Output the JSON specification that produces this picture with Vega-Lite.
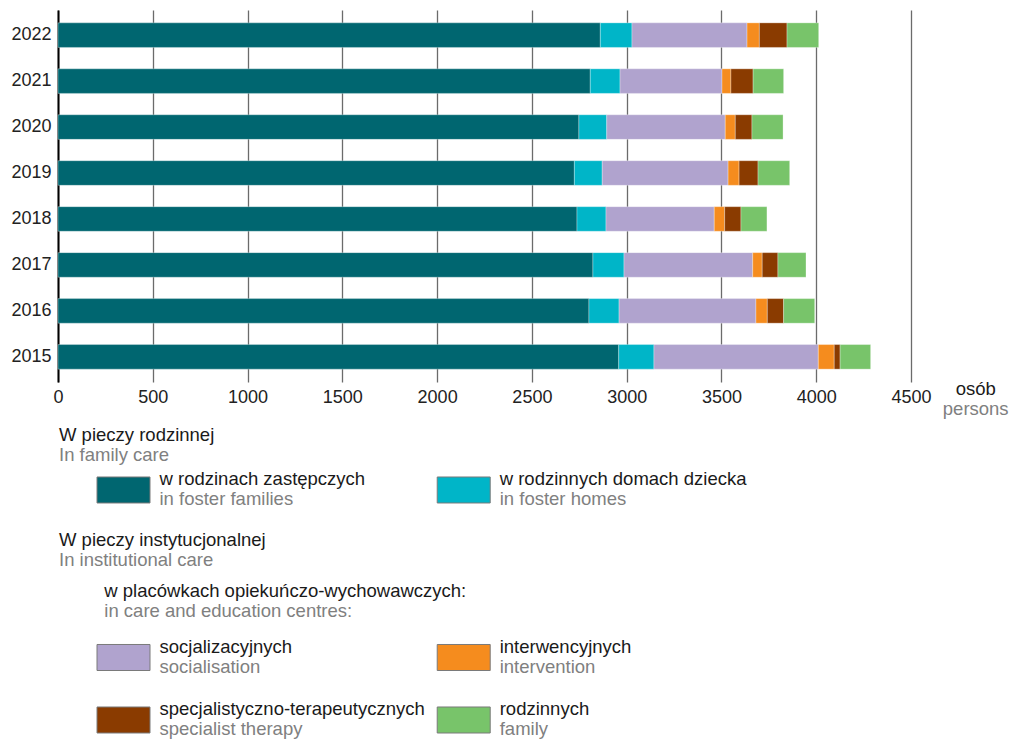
{
  "$schema": "https://vega.github.io/schema/vega-lite/v6.json",
  "padding": {"left": 10, "top": 10, "right": 5, "bottom": 2},
  "background": "white",
  "bounds": "flush",
  "spacing": 0,
  "config": {"view": {"stroke": null}, "font": "Liberation Sans"},
  "datasets": {
    "bars": [
      {"year": "2022", "cat": "1 foster families", "n": 2861},
      {"year": "2022", "cat": "2 foster homes", "n": 167},
      {"year": "2022", "cat": "3 socialisation", "n": 607},
      {"year": "2022", "cat": "4 intervention", "n": 65},
      {"year": "2022", "cat": "5 specialist therapy", "n": 146},
      {"year": "2022", "cat": "6 family", "n": 167},
      {"year": "2021", "cat": "1 foster families", "n": 2808},
      {"year": "2021", "cat": "2 foster homes", "n": 157},
      {"year": "2021", "cat": "3 socialisation", "n": 538},
      {"year": "2021", "cat": "4 intervention", "n": 47},
      {"year": "2021", "cat": "5 specialist therapy", "n": 117},
      {"year": "2021", "cat": "6 family", "n": 161},
      {"year": "2020", "cat": "1 foster families", "n": 2748},
      {"year": "2020", "cat": "2 foster homes", "n": 147},
      {"year": "2020", "cat": "3 socialisation", "n": 625},
      {"year": "2020", "cat": "4 intervention", "n": 53},
      {"year": "2020", "cat": "5 specialist therapy", "n": 88},
      {"year": "2020", "cat": "6 family", "n": 164},
      {"year": "2019", "cat": "1 foster families", "n": 2724},
      {"year": "2019", "cat": "2 foster homes", "n": 147},
      {"year": "2019", "cat": "3 socialisation", "n": 664},
      {"year": "2019", "cat": "4 intervention", "n": 58},
      {"year": "2019", "cat": "5 specialist therapy", "n": 100},
      {"year": "2019", "cat": "6 family", "n": 167},
      {"year": "2018", "cat": "1 foster families", "n": 2738},
      {"year": "2018", "cat": "2 foster homes", "n": 153},
      {"year": "2018", "cat": "3 socialisation", "n": 571},
      {"year": "2018", "cat": "4 intervention", "n": 55},
      {"year": "2018", "cat": "5 specialist therapy", "n": 86},
      {"year": "2018", "cat": "6 family", "n": 137},
      {"year": "2017", "cat": "1 foster families", "n": 2822},
      {"year": "2017", "cat": "2 foster homes", "n": 164},
      {"year": "2017", "cat": "3 socialisation", "n": 679},
      {"year": "2017", "cat": "4 intervention", "n": 50},
      {"year": "2017", "cat": "5 specialist therapy", "n": 83},
      {"year": "2017", "cat": "6 family", "n": 148},
      {"year": "2016", "cat": "1 foster families", "n": 2801},
      {"year": "2016", "cat": "2 foster homes", "n": 159},
      {"year": "2016", "cat": "3 socialisation", "n": 722},
      {"year": "2016", "cat": "4 intervention", "n": 60},
      {"year": "2016", "cat": "5 specialist therapy", "n": 86},
      {"year": "2016", "cat": "6 family", "n": 164},
      {"year": "2015", "cat": "1 foster families", "n": 2958},
      {"year": "2015", "cat": "2 foster homes", "n": 186},
      {"year": "2015", "cat": "3 socialisation", "n": 867},
      {"year": "2015", "cat": "4 intervention", "n": 84},
      {"year": "2015", "cat": "5 specialist therapy", "n": 31},
      {"year": "2015", "cat": "6 family", "n": 161}
    ],
    "legend": [
      {"cat": "1 foster families", "pl": "w rodzinach zastępczych", "en": "in foster families", "col": 1, "blk": "i1"},
      {"cat": "2 foster homes", "pl": "w rodzinnych domach dziecka", "en": "in foster homes", "col": 2, "blk": "i1"},
      {"cat": "3 socialisation", "pl": "socjalizacyjnych", "en": "socialisation", "col": 1, "blk": "i2"},
      {"cat": "4 intervention", "pl": "interwencyjnych", "en": "intervention", "col": 2, "blk": "i2"},
      {"cat": "5 specialist therapy", "pl": "specjalistyczno-terapeutycznych", "en": "specialist therapy", "col": 1, "blk": "i3"},
      {"cat": "6 family", "pl": "rodzinnych", "en": "family", "col": 2, "blk": "i3"}
    ],
    "heads": [
      {"pl": "W pieczy rodzinnej", "en": "In family care", "blk": "h1"},
      {"pl": "W pieczy instytucjonalnej", "en": "In institutional care", "blk": "h2"},
      {"pl": "w placówkach opiekuńczo-wychowawczych:", "en": "in care and education centres:", "blk": "s2"},
      {"pl": "osób", "en": "persons", "blk": "u"}
    ]
  },
  "resolve": {"scale": {"x": "independent", "y": "independent", "color": "shared"}},
  "vconcat": [
    {
      "width": 853,
      "height": 372,
      "data": {"name": "bars"},
      "mark": {"type": "bar", "stroke": "white", "strokeWidth": 0.6, "strokeOpacity": 0.5},
      "encoding": {
        "y": {
          "field": "year", "type": "ordinal", "sort": "descending",
          "scale": {"paddingInner": 0.465, "paddingOuter": 0.28},
          "axis": {"title": null, "ticks": false, "domain": true, "domainColor": "#000000", "domainWidth": 2, "labelFontSize": 18, "labelColor": "#222222", "labelPadding": 7}
        },
        "x": {
          "field": "n", "type": "quantitative", "stack": "zero",
          "scale": {"domain": [0, 4500], "nice": false},
          "axis": {"title": null, "values": [0, 500, 1000, 1500, 2000, 2500, 3000, 3500, 4000, 4500], "format": "d", "grid": true, "gridColor": "#6b6b6b", "gridWidth": 1.3, "domain": false, "ticks": false, "labelFontSize": 18, "labelColor": "#222222", "labelPadding": 6, "labelFlush": false}
        },
        "color": {
          "field": "cat", "type": "nominal",
          "scale": {
            "domain": ["1 foster families", "2 foster homes", "3 socialisation", "4 intervention", "5 specialist therapy", "6 family"],
            "range": ["#006670", "#00B5C8", "#B0A3CE", "#F58C1E", "#8A3B00", "#78C46A"]
          },
          "legend": null
        },
        "order": {"field": "cat", "sort": "ascending"}
      }
    },
    {
      "width": 956,
      "height": 355,
      "resolve": {"scale": {"y": "independent"}},
      "layer": [
        {
          "data": {"name": "heads"},
          "transform": [{"filter": "datum.blk == 'u'"}],
          "mark": {"type": "text", "align": "center", "baseline": "alphabetic", "dx": 512, "dy": -5, "fontSize": 18.5, "color": "#1a1a1a"},
          "encoding": {
            "x": {"datum": 2, "type": "ordinal", "scale": {"type": "point", "domain": [1, 2], "padding": 0.90505, "align": 0.10637}, "axis": null},
            "y": {"field": "blk", "type": "nominal", "scale": {"type": "point", "domain": ["u"], "align": 0.0493}, "axis": null},
            "text": {"field": "pl"}
          }
        },
        {
          "data": {"name": "heads"},
          "transform": [{"filter": "datum.blk == 'u'"}],
          "mark": {"type": "text", "align": "center", "baseline": "alphabetic", "dx": 512, "dy": 15, "fontSize": 18.5, "color": "#808080"},
          "encoding": {
            "x": {"datum": 2, "type": "ordinal", "scale": {"type": "point", "domain": [1, 2], "padding": 0.90505, "align": 0.10637}, "axis": null},
            "y": {"field": "blk", "type": "nominal", "scale": {"type": "point", "domain": ["u"], "align": 0.0493}, "axis": null},
            "text": {"field": "en"}
          }
        },
        {
          "data": {"name": "heads"},
          "transform": [{"filter": "datum.blk == 'h1' || datum.blk == 'h2'"}],
          "mark": {"type": "text", "align": "left", "baseline": "alphabetic", "dx": -64.5, "dy": -5, "fontSize": 18.5, "color": "#1a1a1a"},
          "encoding": {
            "x": {"datum": 1, "type": "ordinal", "scale": {"type": "point", "domain": [1, 2], "padding": 0.90505, "align": 0.10637}, "axis": null},
            "y": {"field": "blk", "type": "nominal", "scale": {"type": "point", "domain": ["h1", "h2"], "padding": 0, "range": [64, 168.7]}, "axis": null},
            "text": {"field": "pl"}
          }
        },
        {
          "data": {"name": "heads"},
          "transform": [{"filter": "datum.blk == 'h1' || datum.blk == 'h2'"}],
          "mark": {"type": "text", "align": "left", "baseline": "alphabetic", "dx": -64.5, "dy": 15, "fontSize": 18.5, "color": "#808080"},
          "encoding": {
            "x": {"datum": 1, "type": "ordinal", "scale": {"type": "point", "domain": [1, 2], "padding": 0.90505, "align": 0.10637}, "axis": null},
            "y": {"field": "blk", "type": "nominal", "scale": {"type": "point", "domain": ["h1", "h2"], "padding": 0, "range": [64, 168.7]}, "axis": null},
            "text": {"field": "en"}
          }
        },
        {
          "data": {"name": "heads"},
          "transform": [{"filter": "datum.blk == 's2'"}],
          "mark": {"type": "text", "align": "left", "baseline": "alphabetic", "dx": -19.2, "dy": -5, "fontSize": 18.5, "color": "#1a1a1a"},
          "encoding": {
            "x": {"datum": 1, "type": "ordinal", "scale": {"type": "point", "domain": [1, 2], "padding": 0.90505, "align": 0.10637}, "axis": null},
            "y": {"field": "blk", "type": "nominal", "scale": {"type": "point", "domain": ["s2"], "align": 0.6189}, "axis": null},
            "text": {"field": "pl"}
          }
        },
        {
          "data": {"name": "heads"},
          "transform": [{"filter": "datum.blk == 's2'"}],
          "mark": {"type": "text", "align": "left", "baseline": "alphabetic", "dx": -19.2, "dy": 15, "fontSize": 18.5, "color": "#808080"},
          "encoding": {
            "x": {"datum": 1, "type": "ordinal", "scale": {"type": "point", "domain": [1, 2], "padding": 0.90505, "align": 0.10637}, "axis": null},
            "y": {"field": "blk", "type": "nominal", "scale": {"type": "point", "domain": ["s2"], "align": 0.6189}, "axis": null},
            "text": {"field": "en"}
          }
        },
        {
          "data": {"name": "legend"},
          "transform": [{"filter": "datum.blk == 'i1'"}],
          "mark": {"type": "point", "shape": "M-1,-0.4906L1,-0.4906L1,0.4906L-1,0.4906Z", "size": 2809, "filled": true, "opacity": 1, "stroke": "#7a7a7a", "strokeWidth": 1},
          "encoding": {
            "x": {"field": "col", "type": "ordinal", "scale": {"type": "point", "domain": [1, 2], "padding": 0.90505, "align": 0.10637}, "axis": null},
            "y": {"field": "blk", "type": "nominal", "scale": {"type": "point", "domain": ["i1"], "align": 0.3042}, "axis": null},
            "color": {"field": "cat", "type": "nominal", "legend": null}
          }
        },
        {
          "data": {"name": "legend"},
          "transform": [{"filter": "datum.blk == 'i1'"}],
          "mark": {"type": "text", "align": "left", "baseline": "alphabetic", "dx": 36, "dy": -5, "fontSize": 18.5, "color": "#1a1a1a"},
          "encoding": {
            "x": {"field": "col", "type": "ordinal", "scale": {"type": "point", "domain": [1, 2], "padding": 0.90505, "align": 0.10637}, "axis": null},
            "y": {"field": "blk", "type": "nominal", "scale": {"type": "point", "domain": ["i1"], "align": 0.3042}, "axis": null},
            "text": {"field": "pl"}
          }
        },
        {
          "data": {"name": "legend"},
          "transform": [{"filter": "datum.blk == 'i1'"}],
          "mark": {"type": "text", "align": "left", "baseline": "alphabetic", "dx": 36, "dy": 15, "fontSize": 18.5, "color": "#808080"},
          "encoding": {
            "x": {"field": "col", "type": "ordinal", "scale": {"type": "point", "domain": [1, 2], "padding": 0.90505, "align": 0.10637}, "axis": null},
            "y": {"field": "blk", "type": "nominal", "scale": {"type": "point", "domain": ["i1"], "align": 0.3042}, "axis": null},
            "text": {"field": "en"}
          }
        },
        {
          "data": {"name": "legend"},
          "transform": [{"filter": "datum.blk != 'i1'"}],
          "mark": {"type": "point", "shape": "M-1,-0.4906L1,-0.4906L1,0.4906L-1,0.4906Z", "size": 2809, "filled": true, "opacity": 1, "stroke": "#7a7a7a", "strokeWidth": 1},
          "encoding": {
            "x": {"field": "col", "type": "ordinal", "scale": {"type": "point", "domain": [1, 2], "padding": 0.90505, "align": 0.10637}, "axis": null},
            "y": {"field": "blk", "type": "nominal", "scale": {"type": "point", "domain": ["i2", "i3"], "padding": 0, "range": [275.5, 338]}, "axis": null},
            "color": {"field": "cat", "type": "nominal", "legend": null}
          }
        },
        {
          "data": {"name": "legend"},
          "transform": [{"filter": "datum.blk != 'i1'"}],
          "mark": {"type": "text", "align": "left", "baseline": "alphabetic", "dx": 36, "dy": -5, "fontSize": 18.5, "color": "#1a1a1a"},
          "encoding": {
            "x": {"field": "col", "type": "ordinal", "scale": {"type": "point", "domain": [1, 2], "padding": 0.90505, "align": 0.10637}, "axis": null},
            "y": {"field": "blk", "type": "nominal", "scale": {"type": "point", "domain": ["i2", "i3"], "padding": 0, "range": [275.5, 338]}, "axis": null},
            "text": {"field": "pl"}
          }
        },
        {
          "data": {"name": "legend"},
          "transform": [{"filter": "datum.blk != 'i1'"}],
          "mark": {"type": "text", "align": "left", "baseline": "alphabetic", "dx": 36, "dy": 15, "fontSize": 18.5, "color": "#808080"},
          "encoding": {
            "x": {"field": "col", "type": "ordinal", "scale": {"type": "point", "domain": [1, 2], "padding": 0.90505, "align": 0.10637}, "axis": null},
            "y": {"field": "blk", "type": "nominal", "scale": {"type": "point", "domain": ["i2", "i3"], "padding": 0, "range": [275.5, 338]}, "axis": null},
            "text": {"field": "en"}
          }
        }
      ]
    }
  ]
}
